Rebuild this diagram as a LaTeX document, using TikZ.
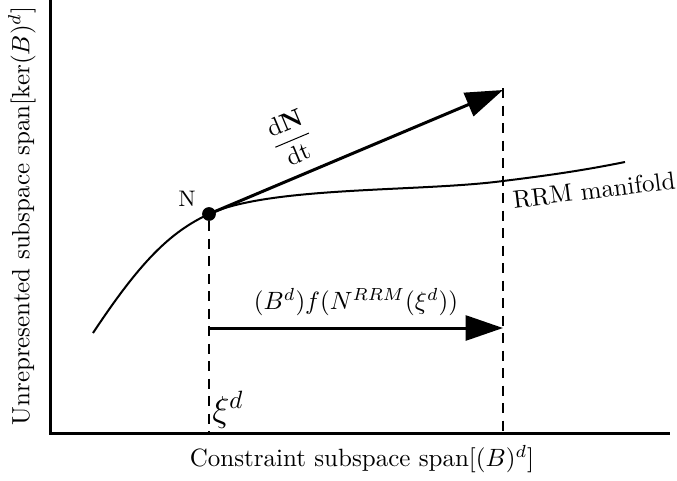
\documentclass[tikz,border=0pt]{standalone}
\usetikzlibrary{arrows.meta}
\begin{document}
\begin{tikzpicture}[x=0.4pt, y=-0.4pt,
		ax/.style = {line width=1.2pt},
		v/.style = {line width=1pt, dash pattern=on 4pt off 3pt},
		r/.style = {-{Triangle[length=15pt, width=10pt]}, line width=1.2pt},
		m/.style = {line width=0.8pt},
		pt/.style = {circle, fill=black, inner sep=0pt, minimum size=5.5pt}
		]
		\useasboundingbox (0, 0) rectangle (677, 480);
		
		%Nodes
		\coordinate	(O)	at	(50, 433);
		\coordinate	(ytop)	at	(50, 0);
		\coordinate	(xend)	at	(670, 433);
		\node[pt]	(N)	at	(209, 214)	{};
		\node[font=\small]	(Nl)	at	(187, 199)	{N};
		\coordinate	(tip)	at	(503, 90);
		\coordinate	(vtop)	at	(503, 88);
		\coordinate	(vbot)	at	(503, 433);
		\coordinate	(nbot)	at	(209, 433);
		\coordinate	(hs)	at	(209, 328);
		\coordinate	(he)	at	(503, 328);
		\coordinate	(m0)	at	(93, 333);
		\coordinate	(m1)	at	(625, 162);
		
		%Lines
		\draw[ax]	(ytop)	--	(O)	--	(xend);
		\draw[v]	(N)	--	(nbot);
		\draw[v]	(vtop)	--	(vbot);
		\draw[m]	(m0)	.. controls (140, 262) and (170, 232) ..	(N.center)
				.. controls (270, 186) and (420, 192) ..	(503, 181)
				.. controls (560, 174) and (590, 169) ..	(m1);
		\draw[r]	(N.center)	--	node[sloped, above=1pt, pos=0.33]	{$\displaystyle\frac{\mathrm{d}\mathbf{N}}{\mathrm{dt}}$}	(tip);
		\draw[r]	(hs)	--	node[above=1pt]	{$(B^d)f(N^{RRM}(\xi^d))$}	(he);
		
		%Labels
		\node[rotate=90]	(ylab)	at	(22, 216)	{Unrepresented subspace span$[\ker(B)^d]$};
		\node	(xlab)	at	(362, 459)	{Constraint subspace span$[(B)^d]$};
		\node[rotate=7]	(rrm)	at	(594, 190)	{RRM manifold};
		\node[font=\Large]	(xi)	at	(228, 410)	{$\xi^d$};
	\end{tikzpicture}
\end{document}
